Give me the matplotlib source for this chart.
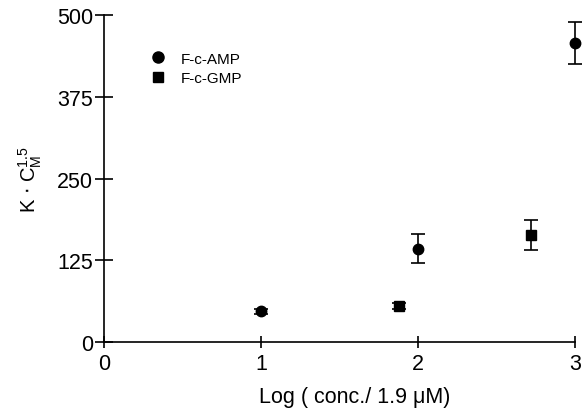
import matplotlib
matplotlib.use("Agg")
import matplotlib.pyplot as plt
from matplotlib.lines import Line2D

plt.rcParams['font.family'] = ['Liberation Sans', 'DejaVu Sans']

# F-c-AMP measurements
amp_x = [1.0, 2.0, 3.0]
amp_y = [47, 143, 457]
amp_err = [4, 22, 32]

# F-c-GMP measurements
gmp_x = [1.88, 2.72]
gmp_y = [55, 164]
gmp_err = [5, 23]

x_ticks = [0, 1, 2, 3]
y_ticks = [0, 125, 250, 375, 500]

fig = plt.figure(figsize=(5.84, 4.10), dpi=100)
ax = fig.add_axes([0.178, 0.163, 0.807, 0.798])

ax.errorbar(amp_x, amp_y, yerr=amp_err, fmt='o', color='black', ms=7.5,
            capsize=5.2, elinewidth=1.2, capthick=1.2, clip_on=False)
ax.errorbar(gmp_x, gmp_y, yerr=gmp_err, fmt='s', color='black', ms=7.2,
            capsize=5.2, elinewidth=1.2, capthick=1.2, clip_on=False)

ax.set_xlim(0, 3)
ax.set_ylim(0, 500)
ax.set_xticks(x_ticks)
ax.set_yticks(y_ticks)

for side in ('top', 'right'):
    ax.spines[side].set_visible(False)
for side in ('left', 'bottom'):
    ax.spines[side].set_linewidth(1.2)

ax.tick_params(axis='both', direction='inout', width=1.2, labelsize=15.5)
ax.tick_params(axis='x', length=9, pad=3)
ax.tick_params(axis='y', length=13, pad=1.5)

ax.set_xlabel('Log ( conc./ 1.9 \u03bcM)', fontsize=15.5)
ax.xaxis.set_label_coords(0.531, -0.135)
ax.set_ylabel(r'K $\cdot$ C$_\mathregular{M}^\mathregular{1.5}$', fontsize=14.5,
              labelpad=9)

handles = [
    Line2D([], [], marker='o', ls='none', color='black', ms=8),
    Line2D([], [], marker='s', ls='none', color='black', ms=7.5),
]
ax.legend(handles, ['F-c-AMP', 'F-c-GMP'], loc='upper left',
          bbox_to_anchor=(0.07, 0.93), frameon=False, fontsize=11,
          handletextpad=1.0, labelspacing=0.35, handlelength=1.0)

fig.savefig('out.png', dpi=100)
